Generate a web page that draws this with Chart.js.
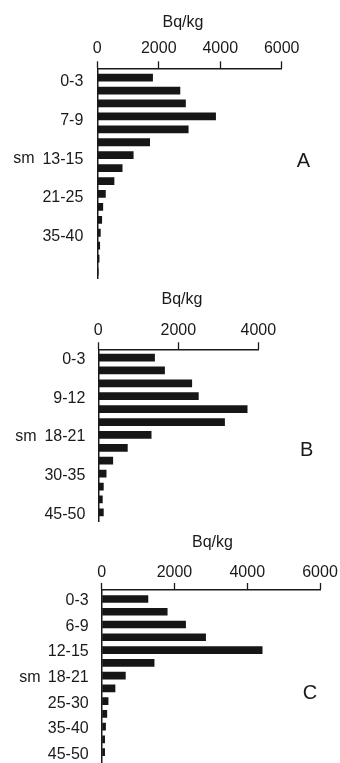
<!DOCTYPE html>
<html><head><meta charset="utf-8">
<script src="https://cdn.jsdelivr.net/npm/chart.js@4.4.1/dist/chart.umd.min.js"></script>
<style>
html,body{margin:0;padding:0;background:#fff;width:340px;height:763px;overflow:hidden}
canvas{position:absolute;left:0;display:block}
</style></head><body>
<canvas id="cA" width="340" height="285" style="top:0px"></canvas>
<canvas id="cB" width="340" height="240" style="top:285px"></canvas>
<canvas id="cC" width="340" height="238" style="top:525px"></canvas>
<script>
// ---- data ----
const depthA = ['0-3','3-5','5-7','7-9','9-11','11-13','13-15','15-18','18-21','21-25','25-30','30-35','35-40','40-45','45-50','50-55'];
const valuesA = [1810,2700,2880,3860,2970,1715,1180,820,555,275,190,155,110,90,70,40];
const labeledA = [0,3,6,9,12];
const xTicksA = [0,2000,4000,6000];

const depthB = ['0-3','3-6','6-9','9-12','12-15','15-18','18-21','21-25','25-30','30-35','35-40','40-45','45-50'];
const valuesB = [1415,1665,2345,2510,3730,3165,1330,735,370,205,135,110,135];
const labeledB = [0,3,6,9,12];
const xTicksB = [0,2000,4000];

const depthC = ['0-3','3-6','6-9','9-12','12-15','15-18','18-21','21-25','25-30','30-35','35-40','40-45','45-50'];
const valuesC = [1280,1810,2315,2865,4420,1450,660,375,185,150,115,90,90];
const labeledC = [0,2,4,6,8,10,12];
const xTicksC = [0,2000,4000,6000];

const unitLabel = 'Bq/kg';
const depthLabel = 'sm';

// ---- rendering ----
const FONT = "'Liberation Sans', Arial, Helvetica, sans-serif";
const INK = '#1a1a1a';

const textPlugin = {
  id: 'panelText',
  afterDraw(chart, args, opts) {
    const ctx = chart.ctx;
    ctx.save();
    ctx.fillStyle = INK;
    ctx.textAlign = 'center';
    ctx.textBaseline = 'middle';
    for (const t of opts.items) {
      ctx.font = t.size + 'px ' + FONT;
      ctx.fillText(t.text, t.x, t.y);
    }
    ctx.restore();
  }
};

function panel(id, o) {
  new Chart(document.getElementById(id), {
    type: 'bar',
    data: {
      datasets: [{
        data: o.values.map((v, i) => ({x: v, y: i})),
        backgroundColor: '#161616',
        borderWidth: 0,
        barPercentage: 0.6,
        categoryPercentage: 1
      }]
    },
    options: {
      indexAxis: 'y',
      responsive: false,
      animation: false,
      devicePixelRatio: 1,
      layout: {padding: {left: 0, top: 0, right: o.padRight, bottom: o.padBottom}},
      plugins: {
        legend: {display: false},
        tooltip: {enabled: false},
        panelText: {items: o.texts}
      },
      scales: {
        x: {
          type: 'linear', position: 'top', min: 0, max: o.xMax,
          afterFit(s) { s.height = o.axisY; s.paddingLeft = 0; s.paddingRight = 0; },
          afterBuildTicks(s) { s.ticks = o.xTicks.map(v => ({value: v})); },
          ticks: {callback: v => String(v), font: {family: FONT, size: 16}, color: INK, padding: o.xPad, maxRotation: 0},
          grid: {display: true, drawOnChartArea: false, drawTicks: true, tickLength: 7, tickWidth: 1.3, tickColor: INK},
          border: {display: true, color: INK, width: 1.5}
        },
        y: {
          type: 'linear', reverse: true, min: o.yMin, max: o.yMax, offset: false,
          afterFit(s) { s.width = o.axisX; s.paddingTop = 0; s.paddingBottom = 0; },
          afterBuildTicks(s) { s.ticks = o.labeled.map(v => ({value: v})); },
          ticks: {autoSkip: false, callback: v => o.cats[v], padding: o.yPad, labelOffset: o.labelOffset, font: {family: FONT, size: 16}, color: INK},
          grid: {display: false},
          border: {display: true, color: INK, width: 1.5}
        }
      }
    },
    plugins: [textPlugin]
  });
}

panel('cA', {
  cats: depthA, values: valuesA, labeled: labeledA, xTicks: xTicksA, xMax: 6000,
  axisX: 97.3, axisY: 68.3, padRight: 58.3, padBottom: 7, yMin: -0.72, yMax: 15.5,
  xPad: 3, yPad: 6, labelOffset: 4,
  texts: [{text: unitLabel, x: 183, y: 23, size: 16}, {text: depthLabel, x: 24, y: 159, size: 16}, {text: 'A', x: 303.5, y: 161, size: 20}]
});
panel('cB', {
  cats: depthB, values: valuesB, labeled: labeledB, xTicks: xTicksB, xMax: 4000,
  axisX: 98.3, axisY: 64.3, padRight: 81.7, padBottom: 4, yMin: -0.636, yMax: 12.67,
  xPad: 2, yPad: 5, labelOffset: 2,
  texts: [{text: unitLabel, x: 182, y: 15, size: 16}, {text: depthLabel, x: 26, y: 151.5, size: 16}, {text: 'B', x: 306.7, y: 165.5, size: 20}]
});
panel('cC', {
  cats: depthC, values: valuesC, labeled: labeledC, xTicks: xTicksC, xMax: 6000,
  axisX: 101.7, axisY: 65, padRight: 20, padBottom: 1, yMin: -0.705, yMax: 12.77,
  xPad: 1, yPad: 5, labelOffset: 2,
  texts: [{text: unitLabel, x: 212.5, y: 17.5, size: 16}, {text: depthLabel, x: 30, y: 153, size: 16}, {text: 'C', x: 310, y: 168, size: 20}]
});
</script>
</body></html>
